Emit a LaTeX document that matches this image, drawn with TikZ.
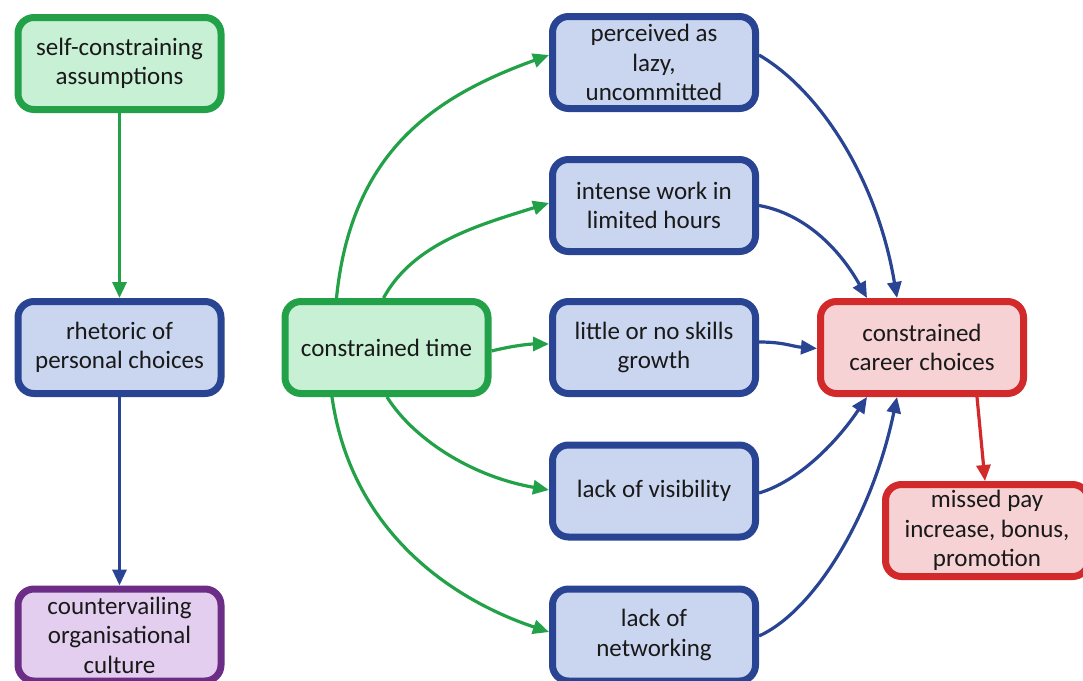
\documentclass[tikz,border=0pt]{standalone}
\usepackage{fontspec}
\setmainfont{Carlito}
\usetikzlibrary{arrows.meta}

\definecolor{grnline}{RGB}{34,161,72}
\definecolor{grnfill}{RGB}{199,240,213}
\definecolor{bluline}{RGB}{40,68,146}
\definecolor{blufill}{RGB}{202,214,240}
\definecolor{redline}{RGB}{210,42,42}
\definecolor{redfill}{RGB}{246,210,212}
\definecolor{purline}{RGB}{108,45,135}
\definecolor{purfill}{RGB}{228,206,240}

\begin{document}
\begin{tikzpicture}[x=1pt,y=-1pt,
  box/.style={rounded corners=16pt, line width=7pt, minimum width=203pt,
    minimum height=92pt, inner sep=0pt, align=center,
    font=\fontsize{25}{29.5}\selectfont, text=black!90},
  gbox/.style={box, draw=grnline, fill=grnfill},
  bbox/.style={box, draw=bluline, fill=blufill},
  rbox/.style={box, draw=redline, fill=redfill},
  pbox/.style={box, draw=purline, fill=purfill},
  link/.style={line width=3.2pt, -{Triangle[length=16pt,width=14pt]}},
  glink/.style={link, draw=grnline},
  blink/.style={link, draw=bluline},
  rlink/.style={link, draw=redline}]
\useasboundingbox (0,0) rectangle (1083,680);

% left column
\node[gbox] (sca) at (119.5,63.5) {self-constraining\\assumptions};
\node[bbox] (rpc) at (119.5,347.5) {rhetoric of\\personal choices};
\node[pbox] (coc) at (119.5,635) {countervailing\\organisational\\culture};

% central cause
\node[gbox] (ct) at (386.5,347.5) {constrained time};

% consequences
\node[bbox] (lazy) at (654,62.5) {perceived as\\lazy,\\uncommitted};
\node[bbox] (iw) at (654,205.5) {intense work in\\limited hours};
\node[bbox] (sk) at (654,347.5) {little or no skills\\growth};
\node[bbox] (vis) at (654,491) {lack of visibility};
\node[bbox] (net) at (654,635) {lack of\\networking};

% outcomes
\node[rbox] (ccc) at (922,347.5) {constrained\\career choices};
\node[rbox] (mp) at (987,530.5) {missed pay\\increase, bonus,\\promotion};

% left chain
\draw[glink] (sca.south) -- (rpc.north);
\draw[blink] (rpc.south) -- (coc.north);

% fan out from constrained time
\draw[glink] ([xshift=-50pt]ct.north) .. controls +(15,-150) and +(-110,40) .. ([yshift=7.5pt]lazy.west);
\draw[glink] ([xshift=-3pt]ct.north) .. controls +(30,-55) and +(-70,22) .. ([yshift=2.5pt]iw.west);
\draw[glink] ([yshift=-3.5pt]ct.east) .. controls +(20,-5) and +(-20,0) .. ([yshift=3.5pt]sk.west);
\draw[glink] ([xshift=0.5pt]ct.south) .. controls +(25,40) and +(-80,-14) .. ([yshift=1pt]vis.west);
\draw[glink] ([xshift=-54.5pt]ct.south) .. controls +(20,140) and +(-90,-30) .. ([yshift=3pt]net.west);

% fan in to constrained career choices
\draw[blink] ([yshift=7.5pt]lazy.east) .. controls +(60,35) and +(-20,-120) .. ([xshift=-25pt]ccc.north);
\draw[blink] (iw.east) .. controls +(45,8) and +(-28,-50) .. ([xshift=-55pt]ccc.north);
\draw[blink] ([yshift=5.5pt]sk.east) .. controls +(25,0) and +(-25,-2) .. ([yshift=-1pt]ccc.west);
\draw[blink] ([yshift=-2pt]vis.east) .. controls +(40,-12) and +(-30,45) .. ([xshift=-55pt]ccc.south);
\draw[blink] ([yshift=-1pt]net.east) .. controls +(55,-25) and +(-25,120) .. ([xshift=-25pt]ccc.south);

% final outcome
\draw[rlink] ([xshift=55pt]ccc.south) -- ([xshift=-2pt]mp.north);
\end{tikzpicture}
\end{document}
